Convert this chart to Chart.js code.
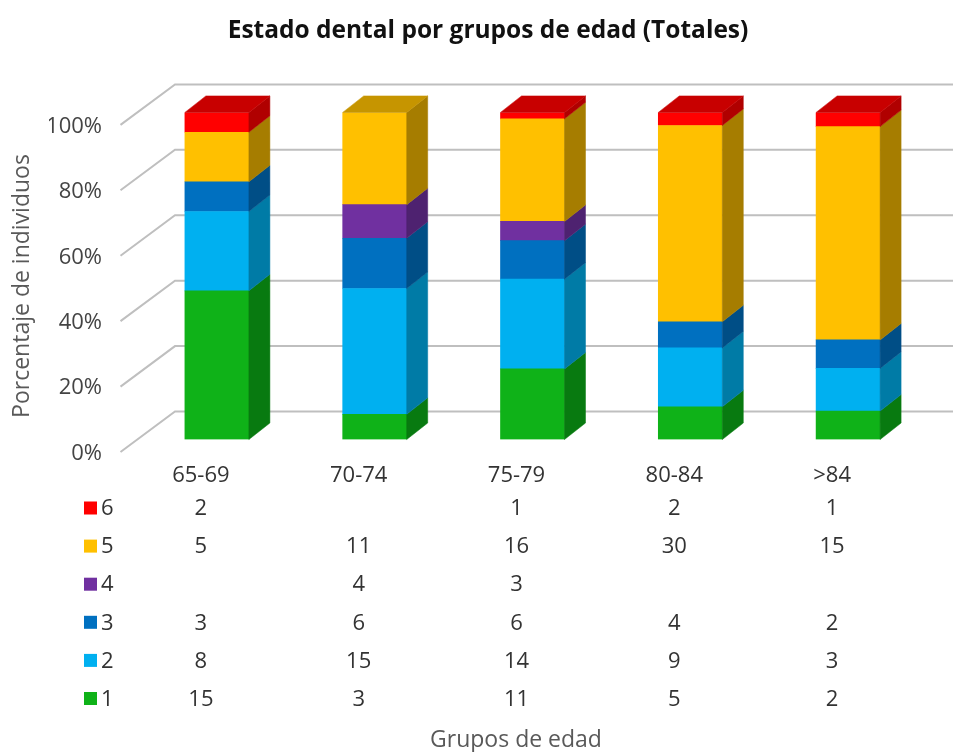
<!DOCTYPE html>
<html lang="es">
<head>
  <meta charset="utf-8">
  <title>Estado dental por grupos de edad</title>
  <script src="https://cdn.jsdelivr.net/npm/chart.js@4"></script>
  <style>
    body { margin: 0; background: #fff; }
    canvas { display: block; filter: blur(0.6px); }
  </style>
</head>
<body>
<canvas id="myChart" width="953" height="752"></canvas>
<script>
  const categories = ['65-69', '70-74', '75-79', '80-84', '>84'];
  const grade1 = [15, 3, 11, 5, 2];
  const grade2 = [8, 15, 14, 9, 3];
  const grade3 = [3, 6, 6, 4, 2];
  const grade4 = [null, 4, 3, null, null];
  const grade5 = [5, 11, 16, 30, 15];
  const grade6 = [2, null, 1, 2, 1];
  const seriesNames = ['1', '2', '3', '4', '5', '6'];
  const seriesCounts = [grade1, grade2, grade3, grade4, grade5, grade6];

  const frontColors = ['#0fb218', '#00b0f0', '#0070c0', '#7030a0', '#ffc000', '#ff0000'];
  const sideColors = ['#087a10', '#007ba6', '#004e86', '#4e2270', '#a67d00', '#b00000'];
  const topColors = ['#0a9412', '#0093c8', '#005da0', '#5d2886', '#c69500', '#c80000'];

  const chartTitle = 'Estado dental por grupos de edad (Totales)';
  const yTitle = 'Porcentaje de individuos';
  const xTitle = 'Grupos de edad';

  // the bars are 100% stacked, the table shows the raw counts
  const totals = categories.map((c, i) => seriesCounts.reduce((sum, s) => sum + (s[i] || 0), 0));

  const FONT = '"Open Sans", sans-serif';
  const DEPTH_X = 21, DEPTH_Y = 16.5;   // bar depth
  const LABEL_SHIFT_X = -16, LABEL_SHIFT_Y = 14;  // front plane of the axes vs front of bars

  function poly(ctx, pts, color) {
    ctx.beginPath();
    pts.forEach((p, i) => i ? ctx.lineTo(p[0], p[1]) : ctx.moveTo(p[0], p[1]));
    ctx.closePath();
    ctx.fillStyle = color;
    ctx.strokeStyle = color;
    ctx.lineWidth = 0.5;
    ctx.fill();
    ctx.stroke();
  }

  const wallPlugin = {
    id: 'wall',
    beforeDatasetsDraw(chart) {
      const { ctx, scales: { y }, chartArea } = chart;
      ctx.save();
      ctx.strokeStyle = '#bfbfbf';
      ctx.lineWidth = 2;
      y.ticks.forEach(t => {
        const py = y.getPixelForValue(t.value);
        ctx.beginPath();
        ctx.moveTo(chartArea.left - 17.5, py + 12.5);
        ctx.lineTo(chartArea.left + 37, py - 28);
        ctx.lineTo(chart.width, py - 28);
        ctx.stroke();
      });
      ctx.restore();
    }
  };

  const depthPlugin = {
    id: 'depth',
    afterDatasetsDraw(chart) {
      const { ctx } = chart;
      ctx.save();
      chart.data.datasets.forEach((ds, d) => {
        chart.getDatasetMeta(d).data.forEach((bar, i) => {
          if (!ds.data[i]) return;
          const r = bar.getProps(['x', 'y', 'base', 'width'], true);
          const right = r.x + r.width / 2, left = r.x - r.width / 2;
          poly(ctx, [[right, r.y], [right + DEPTH_X, r.y - DEPTH_Y],
            [right + DEPTH_X, r.base - DEPTH_Y], [right, r.base]], sideColors[d]);
          // top face only on the last filled segment
          const above = chart.data.datasets.slice(d + 1).some(o => o.data[i]);
          if (!above) {
            poly(ctx, [[left, r.y], [left + DEPTH_X, r.y - DEPTH_Y],
              [right + DEPTH_X, r.y - DEPTH_Y], [right, r.y]], topColors[d]);
          }
        });
      });
      ctx.restore();
    }
  };

  const tablePlugin = {
    id: 'dataTable',
    afterDraw(chart) {
      const { ctx, scales: { x } } = chart;
      const rowTop = 509, rowStep = 38.1;
      ctx.save();
      ctx.textBaseline = 'middle';
      ctx.font = '22px ' + FONT;
      for (let d = seriesNames.length - 1; d >= 0; d--) {
        const rowY = rowTop + (seriesNames.length - 1 - d) * rowStep;
        ctx.fillStyle = frontColors[d];
        ctx.fillRect(84, rowY - 7.5, 13, 13);
        ctx.fillStyle = '#333';
        ctx.textAlign = 'left';
        ctx.fillText(seriesNames[d], 101, rowY);
        ctx.textAlign = 'center';
        seriesCounts[d].forEach((v, i) => {
          if (v !== null) ctx.fillText(v, x.getPixelForValue(i) + LABEL_SHIFT_X, rowY);
        });
      }
      // axis titles sit off the plot centre, as they do on the 3D axes
      ctx.fillStyle = '#595959';
      ctx.font = '23px ' + FONT;
      ctx.fillText(xTitle, 516, 740);
      ctx.translate(22, 286);
      ctx.rotate(-Math.PI / 2);
      ctx.fillText(yTitle, 0, 0);
      ctx.restore();
    }
  };

  const myChart = new Chart(document.getElementById('myChart'), {
    type: 'bar',
    data: {
      labels: categories,
      datasets: seriesCounts.map((counts, d) => ({
        label: seriesNames[d],
        data: counts.map((v, i) => v === null ? null : v / totals[i] * 100),
        backgroundColor: frontColors[d],
        barThickness: 64
      }))
    },
    options: {
      responsive: false,
      animation: false,
      // left padding moves the centred title over, y scale width makes up for it
      layout: { padding: { top: 0, right: 26, bottom: 0, left: 49 } },
      scales: {
        x: {
          stacked: true,
          grid: { display: false, drawTicks: false },
          border: { display: false },
          afterFit: s => { s.height = 312.5; },
          ticks: {
            color: '#333',
            font: { family: FONT, size: 22 },
            labelOffset: LABEL_SHIFT_X,
            padding: 23,
            maxRotation: 0
          }
        },
        y: {
          stacked: true,
          min: 0,
          max: 100,
          grid: { display: false, drawTicks: false },
          border: { display: false },
          afterFit: s => { s.width = 89; },
          ticks: {
            stepSize: 20,
            color: '#444',
            font: { family: FONT, size: 22 },
            labelOffset: LABEL_SHIFT_Y,
            padding: 36,
            callback: v => v + '%'
          }
        }
      },
      plugins: {
        legend: { display: false },
        tooltip: { enabled: false },
        title: {
          display: true,
          text: chartTitle,
          color: '#111',
          font: { family: FONT, size: 24.5, weight: 'bold' },
          padding: { top: 16, bottom: 67 }
        }
      }
    },
    plugins: [wallPlugin, depthPlugin, tablePlugin]
  });
</script>
</body>
</html>
